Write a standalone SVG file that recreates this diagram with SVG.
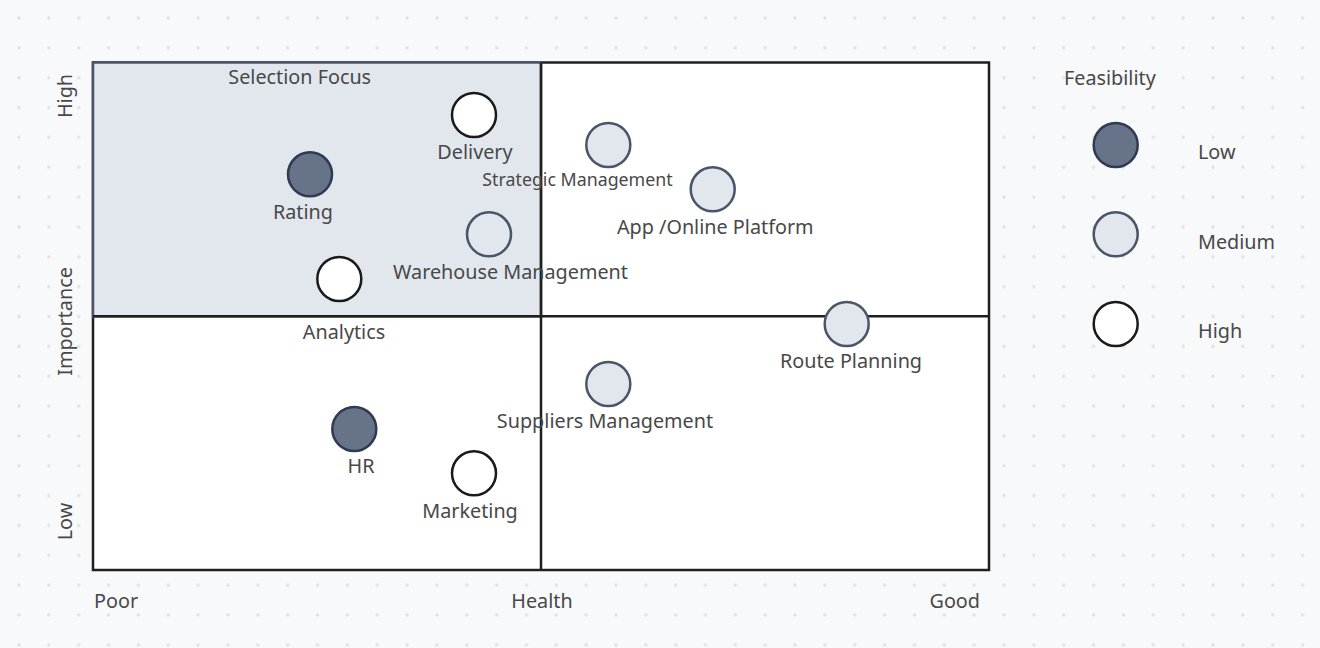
<svg xmlns="http://www.w3.org/2000/svg" width="1320" height="648" viewBox="0 0 1320 648">
<defs>
<pattern id="dots" patternUnits="userSpaceOnUse" x="4.075" y="3.075" width="29.85" height="29.85">
<circle cx="14.925" cy="14.925" r="1.7" fill="#dfe1e5"/>
</pattern>
<style>
text{font-family:"Noto Sans","DejaVu Sans",sans-serif;font-size:19.8px;fill:#484848;}
.sm{font-size:17.8px;}
.mid{text-anchor:middle;}
.n{stroke-width:2.5;}
.low{fill:#667389;stroke:#2f3b4f;}
.med{fill:#e2e7ee;stroke:#4a5568;}
.high{fill:#ffffff;stroke:#1a1a1a;}
.line{stroke:#1f1f1f;stroke-width:2.5;fill:none;}
.box{stroke:#1f1f1f;stroke-width:2.5;fill:#ffffff;}
</style>
</defs>
<rect width="1320" height="648" fill="#f8f9fb"/>
<rect width="1320" height="648" fill="url(#dots)"/>
<g id="chart">
<rect x="93" y="62.5" width="896" height="507.5" class="box"/>
<rect id="selection-focus" x="93" y="62.5" width="448" height="253.8" fill="#e2e7ee" stroke="#4a5568" stroke-width="2.5"/>
</g>
<g id="connectors">
<line class="line" x1="541" y1="62.5" x2="541" y2="570"/>
<line class="line" x1="93" y1="316.3" x2="989" y2="316.3"/>
</g>
<g id="axis-labels">
<text x="299.7" y="84.3" class="mid">Selection Focus</text>
<text x="94" y="607.5">Poor</text>
<text x="542" y="607.5" class="mid">Health</text>
<text x="980" y="607.5" text-anchor="end">Good</text>
<text transform="translate(71.5,96) rotate(-90)" class="mid">High</text>
<text transform="translate(71.5,321.5) rotate(-90)" class="mid">Importance</text>
<text transform="translate(71.5,521.5) rotate(-90)" class="mid">Low</text>
</g>
<g id="node-delivery"><circle class="n high" cx="474" cy="115" r="22"/><text x="475" y="159" class="mid">Delivery</text></g>
<g id="node-rating"><circle class="n low" cx="310" cy="174.3" r="22"/><text x="303" y="218.5" class="mid">Rating</text></g>
<g id="node-warehouse"><circle class="n med" cx="489" cy="234.3" r="22"/><text x="510.5" y="278.5" class="mid">Warehouse Management</text></g>
<g id="node-analytics"><circle class="n high" cx="339.3" cy="279" r="22"/><text x="344" y="338.5" class="mid">Analytics</text></g>
<g id="node-strategic"><circle class="n med" cx="608.3" cy="145" r="22"/><text x="577.5" y="186" class="mid sm">Strategic Management</text></g>
<g id="node-app"><circle class="n med" cx="712.7" cy="189.3" r="22"/><text x="715.3" y="233.5" class="mid">App /Online Platform</text></g>
<g id="node-route"><circle class="n med" cx="846.7" cy="324" r="22"/><text x="851" y="368" class="mid">Route Planning</text></g>
<g id="node-suppliers"><circle class="n med" cx="608.3" cy="384" r="22"/><text x="605" y="428" class="mid">Suppliers Management</text></g>
<g id="node-hr"><circle class="n low" cx="354.3" cy="429" r="22"/><text x="361" y="472.5" class="mid">HR</text></g>
<g id="node-marketing"><circle class="n high" cx="474" cy="473.3" r="22"/><text x="470" y="518" class="mid">Marketing</text></g>
<g id="legend">
<text x="1064" y="84.5">Feasibility</text>
<g id="legend-low"><circle class="n low" cx="1115.7" cy="145" r="22"/><text x="1198" y="159">Low</text></g>
<g id="legend-medium"><circle class="n med" cx="1115.7" cy="234.3" r="22"/><text x="1198" y="248.5">Medium</text></g>
<g id="legend-high"><circle class="n high" cx="1115.7" cy="324" r="22"/><text x="1198" y="338">High</text></g>
</g>
</svg>
